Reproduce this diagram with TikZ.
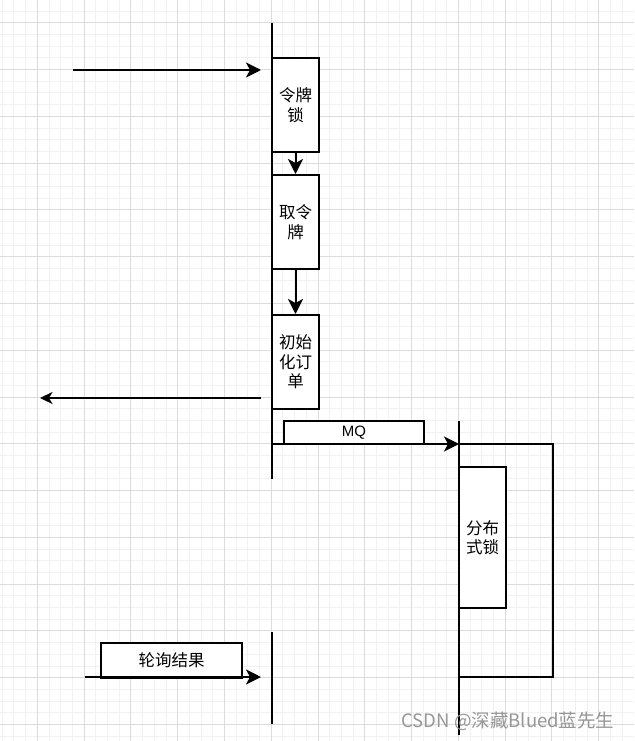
\documentclass[tikz,border=0pt]{standalone}
\usepackage{fontspec}
\setmainfont{Noto Sans CJK SC}
\newfontfamily\latinfont{Liberation Sans}
\usetikzlibrary{arrows.meta}
\definecolor{majorgrid}{RGB}{220,220,220}
\definecolor{minorgrid}{RGB}{241,241,241}
\definecolor{wmgray}{RGB}{150,150,150}
\tikzset{
  minorline/.style={draw=minorgrid,line width=0.8pt},
  majorline/.style={draw=majorgrid,line width=0.8pt},
  lifeline/.style={draw=black,line width=2pt},
  boxnode/.style={draw=black,line width=2pt,fill=white,inner sep=0pt,align=center,
    font=\fontsize{16.5}{19.5}\selectfont},
  msg/.style={draw=black,line width=2pt,-{Stealth[length=15pt,width=15pt,inset=4pt]}},
  thinmsg/.style={draw=black,line width=1.4pt,-{Stealth[length=12.5pt,width=12pt,inset=3.5pt]}},
  plainline/.style={draw=black,line width=2pt}
}
\begin{document}
\begin{tikzpicture}[x=1pt,y=-1pt]
\useasboundingbox (0,0) rectangle (634,741);
\fill[white] (0,0) rectangle (634,741);
% grid
\foreach \i in {0,...,53} { \draw[minorline] ({2.2+11.695*\i},0) -- ({2.2+11.695*\i},741); }
\foreach \i in {0,...,62} { \draw[minorline] (0,{11.0+11.695*\i}) -- (634,{11.0+11.695*\i}); }
\foreach \i in {0,...,12} { \draw[majorline] ({37.3+46.78*\i},0) -- ({37.3+46.78*\i},741); }
\foreach \i in {0,...,15} { \draw[majorline] (0,{22.7+46.78*\i}) -- (634,{22.7+46.78*\i}); }

% coordinates
\coordinate (l1top) at (272,23);
\coordinate (l1bot) at (272,479);
\coordinate (l1btop) at (272,632);
\coordinate (l1bbot) at (272,724);
\coordinate (l2top) at (459,421);
\coordinate (l2bot) at (459,735);
\coordinate (inStart) at (73,70);
\coordinate (inEnd) at (261,70);
\coordinate (outStart) at (261,398);
\coordinate (outEnd) at (40,398);
\coordinate (mqStart) at (272,444);
\coordinate (mqEnd) at (459,444);
\coordinate (rc1) at (553,444);
\coordinate (rc2) at (553,677);
\coordinate (rc3) at (459,677);
\coordinate (pollStart) at (85,677);
\coordinate (pollEnd) at (261,677);

% boxes
\node[boxnode,minimum width=47pt,minimum height=94pt] (lock) at (295.5,105) {令牌\\锁};
\node[boxnode,minimum width=47pt,minimum height=94pt] (take) at (295.5,222) {取令\\牌};
\node[boxnode,minimum width=47pt,minimum height=94pt] (init) at (295.5,362) {初始\\化订\\单};
\node[boxnode,minimum width=140pt,minimum height=23pt,font=\latinfont\fontsize{15}{18}\selectfont] (mq) at (354,432.5) {MQ};
\node[boxnode,minimum width=47pt,minimum height=141pt] (dlock) at (482.5,537.5) {分布\\式锁};
\node[boxnode,minimum width=141pt,minimum height=35pt] (poll) at (171.5,660.5) {轮询结果};

% lifelines
\draw[lifeline] (l1top) -- (l1bot);
\draw[lifeline] (l1btop) -- (l1bbot);
\draw[lifeline] (l2top) -- (l2bot);

% messages
\draw[msg] (inStart) -- (inEnd);
\draw[msg] (lock.south) -- (take.north);
\draw[msg] (take.south) -- (init.north);
\draw[thinmsg] (outStart) -- (outEnd);
\draw[msg] (mqStart) -- (mqEnd);
\draw[plainline] (mqEnd) -- (rc1) -- (rc2) -- (rc3);
\draw[msg] (pollStart) -- (pollEnd);

% watermark
\node[text=wmgray,font=\fontsize{18.5}{22}\selectfont,inner sep=0pt] (wm) at (508,721) {CSDN @深藏Blued蓝先生};
\end{tikzpicture}
\end{document}
